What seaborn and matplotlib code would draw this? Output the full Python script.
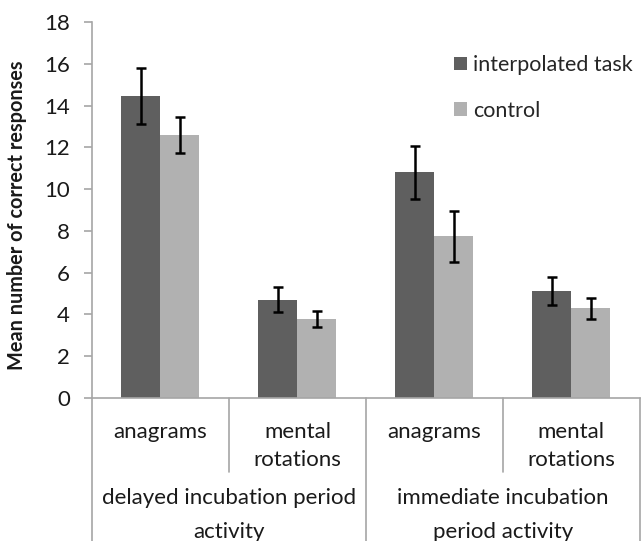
import matplotlib
matplotlib.use("Agg")
import matplotlib.pyplot as plt
import matplotlib.transforms as mtransforms
from matplotlib.patches import Patch
import numpy as np
import pandas as pd
import seaborn as sns

# Mean correct responses and error bar half-lengths per condition
groups = ["delayed incubation period\nactivity", "immediate incubation\nperiod activity"]
tasks = ["anagrams", "mental\nrotations", "anagrams", "mental\nrotations"]
conditions = ["interpolated task", "control"]
interpolated_means = [14.45, 4.7, 10.8, 5.12]
control_means = [12.6, 3.78, 7.75, 4.3]
interpolated_err = [1.35, 0.6, 1.25, 0.68]
control_err = [0.85, 0.38, 1.22, 0.5]
yticks = [0, 2, 4, 6, 8, 10, 12, 14, 16, 18]

sns.set_theme(style="white")
plt.rcParams["font.family"] = ["Lato", "DejaVu Sans"]

slots = list(range(len(tasks)))
df = pd.DataFrame({
    "slot": slots * 2,
    "condition": [conditions[0]] * 4 + [conditions[1]] * 4,
    "value": interpolated_means + control_means,
})
errs = {conditions[0]: interpolated_err, conditions[1]: control_err}
palette = {conditions[0]: "#5f5f5f", conditions[1]: "#b1b1b1"}
text_color = "#1a1a1a"
axis_color = "#a6a6a6"

fig = plt.figure(figsize=(6.41, 5.41), dpi=100)
ax = fig.add_axes([0.1435, 0.2643, 0.8545, 0.695])

sns.barplot(data=df, x="slot", y="value", hue="condition", hue_order=conditions,
            palette=palette, width=0.57, saturation=1, ax=ax, legend=False,
            edgecolor="none", linewidth=0)

# error bars placed at the centre of each seaborn bar
for cont, cond in zip(ax.containers, conditions):
    xs = [p.get_x() + p.get_width() / 2 for p in cont.patches]
    ys = [p.get_height() for p in cont.patches]
    ax.errorbar(xs, ys, yerr=errs[cond], fmt="none", ecolor="black",
                elinewidth=1.8, capsize=3.8, capthick=1.8, zorder=5)

ax.set_xlim(-0.5, 3.5)
ax.set_ylim(0, 18)
ax.set_yticks(yticks)
ax.set_yticklabels([str(t) for t in yticks], fontsize=16, color=text_color)
ax.set_xticks(slots)
ax.set_xticklabels(tasks, fontsize=16, color=text_color, linespacing=1.55, va="top")
ax.set_xlabel("")
ax.set_ylabel("Mean number of correct responses", fontsize=14.3, fontweight="bold",
              color=text_color)
ax.yaxis.set_label_coords(-0.118, 0.485)

for s in ["top", "right"]:
    ax.spines[s].set_visible(False)
for s in ["left", "bottom"]:
    ax.spines[s].set_color(axis_color)
    ax.spines[s].set_linewidth(1.2)
ax.tick_params(axis="y", left=True, length=6, width=1.2, color=axis_color, pad=10)
ax.tick_params(axis="x", bottom=False, pad=11)

# divider lines of the two-level category axis
trans = mtransforms.blended_transform_factory(ax.transData, ax.transAxes)
for xd in [0.5, 2.5]:
    ax.plot([xd, xd], [0, -0.197], transform=trans, color=axis_color, lw=1.2, clip_on=False)
for xd in [-0.5, 1.5, 3.5]:
    ax.plot([xd, xd], [0, -0.40], transform=trans, color=axis_color, lw=1.2, clip_on=False)

# group labels under the task labels
for gi, g in enumerate(groups):
    ax.text(gi * 2 + 0.5, -0.238, g, transform=trans, ha="center", va="top",
            fontsize=16, color=text_color, linespacing=1.9)

handles = [Patch(facecolor=palette[c], edgecolor="none", label=c) for c in conditions]
ax.legend(handles=handles, loc="upper left", bbox_to_anchor=(0.645, 0.935),
          frameon=False, fontsize=15.5, handlelength=0.6, handleheight=0.6,
          handletextpad=0.3, labelspacing=1.2, borderaxespad=0)

fig.savefig("out.png", dpi=100)
